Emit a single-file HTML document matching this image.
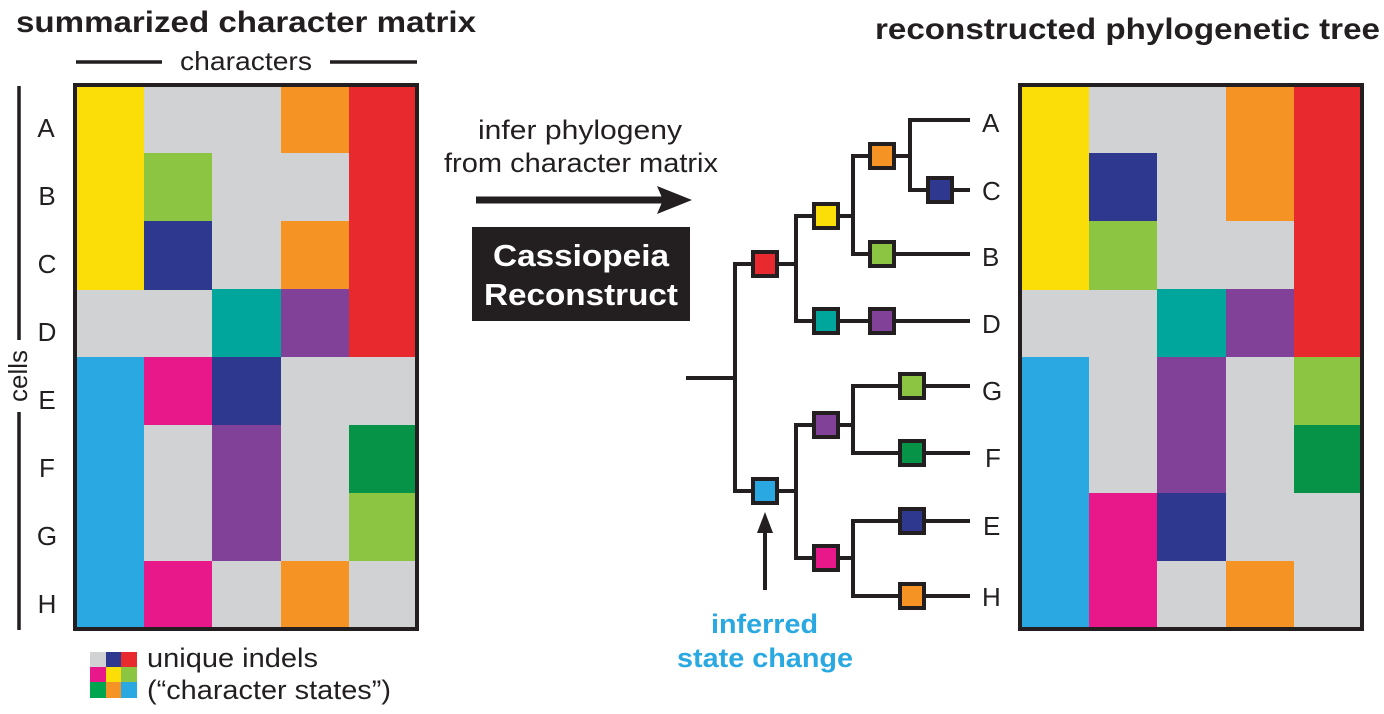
<!DOCTYPE html>
<html><head><meta charset="utf-8"><style>
html,body{margin:0;padding:0;background:#fff;}
svg{display:block;font-family:"Liberation Sans",Arial,sans-serif;}
</style></head><body>
<svg width="1384" height="714" viewBox="0 0 1384 714" xmlns="http://www.w3.org/2000/svg">
<text x="16" y="32" font-size="30" font-weight="bold" fill="#231f20" textLength="460" lengthAdjust="spacingAndGlyphs">summarized character matrix</text>
<text x="875" y="39" font-size="30" font-weight="bold" fill="#231f20" textLength="505" lengthAdjust="spacingAndGlyphs">reconstructed phylogenetic tree</text>
<line x1="76" y1="62" x2="162" y2="62" stroke="#231f20" stroke-width="3.5"/>
<line x1="330" y1="62" x2="417" y2="62" stroke="#231f20" stroke-width="3.5"/>
<text x="180" y="70" font-size="26" fill="#231f20" textLength="132" lengthAdjust="spacingAndGlyphs">characters</text>
<line x1="19" y1="86" x2="19" y2="340" stroke="#231f20" stroke-width="3.5"/>
<line x1="19" y1="412" x2="19" y2="630" stroke="#231f20" stroke-width="3.5"/>
<text transform="translate(27,376) rotate(-90)" font-size="26" text-anchor="middle" fill="#231f20">cells</text>
<g font-size="26" fill="#231f20" text-anchor="middle">
<text x="46" y="137">A</text><text x="47" y="205">B</text><text x="47" y="273">C</text><text x="47" y="341">D</text>
<text x="47" y="409">E</text><text x="47" y="477">F</text><text x="47" y="545">G</text><text x="47" y="613">H</text>
</g>
<rect x="76" y="86" width="340" height="542" fill="#d1d2d4"/>
<rect x="76" y="86" width="68" height="204" fill="#fbdd08"/>
<rect x="76" y="357" width="68" height="271" fill="#29a8e1"/>
<rect x="144" y="153" width="68" height="68" fill="#8cc541"/>
<rect x="144" y="221" width="68" height="69" fill="#2e388e"/>
<rect x="144" y="357" width="68" height="68" fill="#e8178a"/>
<rect x="144" y="561" width="68" height="67" fill="#e8178a"/>
<rect x="212" y="289" width="69" height="68" fill="#00a69c"/>
<rect x="212" y="357" width="69" height="68" fill="#2e388e"/>
<rect x="212" y="425" width="69" height="136" fill="#814199"/>
<rect x="281" y="86" width="68" height="67" fill="#f69325"/>
<rect x="281" y="221" width="68" height="68" fill="#f69325"/>
<rect x="281" y="289" width="68" height="68" fill="#814199"/>
<rect x="281" y="561" width="68" height="67" fill="#f69325"/>
<rect x="349" y="86" width="67" height="271" fill="#e8292d"/>
<rect x="349" y="425" width="67" height="68" fill="#079347"/>
<rect x="349" y="493" width="67" height="68" fill="#8cc541"/>
<rect x="75" y="85" width="342" height="544" fill="none" stroke="#231f20" stroke-width="4"/>
<rect x="90" y="652" width="16" height="15" fill="#d1d2d4"/><rect x="106" y="652" width="15" height="15" fill="#2e388e"/><rect x="121" y="652" width="16" height="15" fill="#e8292d"/>
<rect x="90" y="667" width="16" height="15" fill="#e8178a"/><rect x="106" y="667" width="15" height="15" fill="#fbdd08"/><rect x="121" y="667" width="16" height="15" fill="#8cc541"/>
<rect x="90" y="682" width="16" height="16" fill="#00a54f"/><rect x="106" y="682" width="15" height="16" fill="#f69325"/><rect x="121" y="682" width="16" height="16" fill="#29a8e1"/>
<text x="147" y="667" font-size="27" fill="#231f20" textLength="171" lengthAdjust="spacingAndGlyphs">unique indels</text>
<text x="147" y="699" font-size="27" fill="#231f20" textLength="244" lengthAdjust="spacingAndGlyphs">(“character states”)</text>
<text x="478" y="139" font-size="27" fill="#231f20" textLength="204" lengthAdjust="spacingAndGlyphs">infer phylogeny</text>
<text x="444" y="172" font-size="27" fill="#231f20" textLength="274" lengthAdjust="spacingAndGlyphs">from character matrix</text>
<line x1="476" y1="200" x2="670" y2="200" stroke="#231f20" stroke-width="7"/>
<polygon points="692,200 657,186 663,200 657,214" fill="#231f20"/>
<rect x="472" y="227" width="218" height="94" fill="#231f20"/>
<text x="581" y="266" font-size="31" font-weight="bold" text-anchor="middle" fill="#fff" textLength="176" lengthAdjust="spacingAndGlyphs">Cassiopeia</text>
<text x="581" y="305" font-size="31" font-weight="bold" text-anchor="middle" fill="#fff" textLength="194" lengthAdjust="spacingAndGlyphs">Reconstruct</text>
<g stroke="#231f20" stroke-width="4" fill="none" stroke-linecap="square">
<line x1="688" y1="378" x2="735" y2="378"/>
<polyline points="765,264 735,264 735,491 765,491"/>
<polyline points="765,264 796,264"/>
<polyline points="826,216 796,216 796,321 826,321"/>
<polyline points="826,216 853,216"/>
<polyline points="882,156 853,156 853,254 882,254"/>
<polyline points="882,156 910,156"/>
<polyline points="968,120 910,120 910,190 940,190"/>
<line x1="940" y1="190" x2="968" y2="190"/>
<line x1="882" y1="254" x2="968" y2="254"/>
<line x1="826" y1="321" x2="968" y2="321"/>
<polyline points="765,491 796,491"/>
<polyline points="826,425 796,425 796,558 826,558"/>
<line x1="826" y1="425" x2="853" y2="425"/>
<polyline points="968,386 853,386 853,453 968,453"/>
<line x1="826" y1="558" x2="853" y2="558"/>
<polyline points="968,521 853,521 853,596 968,596"/>
</g>
<g stroke="#231f20" stroke-width="4">
<rect x="753" y="252" width="24" height="24" fill="#e8292d"/>
<rect x="814" y="204" width="24" height="24" fill="#fbdd08"/>
<rect x="814" y="309" width="24" height="24" fill="#00a69c"/>
<rect x="870" y="144" width="24" height="24" fill="#f69325"/>
<rect x="870" y="242" width="24" height="24" fill="#8cc541"/>
<rect x="870" y="309" width="24" height="24" fill="#814199"/>
<rect x="928" y="178" width="24" height="24" fill="#2e388e"/>
<rect x="753" y="479" width="24" height="24" fill="#29a8e1"/>
<rect x="814" y="413" width="24" height="24" fill="#814199"/>
<rect x="814" y="546" width="24" height="24" fill="#e8178a"/>
<rect x="900" y="374" width="24" height="24" fill="#8cc541"/>
<rect x="900" y="441" width="24" height="24" fill="#079347"/>
<rect x="900" y="509" width="24" height="24" fill="#2e388e"/>
<rect x="900" y="584" width="24" height="24" fill="#f69325"/>
</g>
<g font-size="26" fill="#231f20">
<text x="982" y="132">A</text><text x="982" y="200">C</text><text x="982" y="266">B</text><text x="982" y="333">D</text>
<text x="982" y="400">G</text><text x="985" y="467">F</text><text x="983" y="535">E</text><text x="982" y="606">H</text>
</g>
<line x1="765" y1="590" x2="765" y2="528" stroke="#231f20" stroke-width="4"/>
<polygon points="765,512 757,533 773,533" fill="#231f20"/>
<text x="711" y="633" font-size="27" font-weight="bold" fill="#29a8e1" textLength="107" lengthAdjust="spacingAndGlyphs">inferred</text>
<text x="677" y="667" font-size="27" font-weight="bold" fill="#29a8e1" textLength="176" lengthAdjust="spacingAndGlyphs">state change</text>
<rect x="1021" y="86" width="340" height="542" fill="#d1d2d4"/>
<rect x="1021" y="86" width="68" height="204" fill="#fbdd08"/>
<rect x="1021" y="357" width="68" height="271" fill="#29a8e1"/>
<rect x="1089" y="153" width="68" height="68" fill="#2e388e"/>
<rect x="1089" y="221" width="68" height="69" fill="#8cc541"/>
<rect x="1089" y="493" width="68" height="135" fill="#e8178a"/>
<rect x="1157" y="289" width="69" height="68" fill="#00a69c"/>
<rect x="1157" y="357" width="69" height="136" fill="#814199"/>
<rect x="1157" y="493" width="69" height="68" fill="#2e388e"/>
<rect x="1226" y="86" width="68" height="135" fill="#f69325"/>
<rect x="1226" y="289" width="68" height="68" fill="#814199"/>
<rect x="1226" y="561" width="68" height="67" fill="#f69325"/>
<rect x="1294" y="86" width="67" height="271" fill="#e8292d"/>
<rect x="1294" y="357" width="67" height="68" fill="#8cc541"/>
<rect x="1294" y="425" width="67" height="68" fill="#079347"/>
<rect x="1020" y="85" width="342" height="544" fill="none" stroke="#231f20" stroke-width="4"/>
</svg>
</body></html>
